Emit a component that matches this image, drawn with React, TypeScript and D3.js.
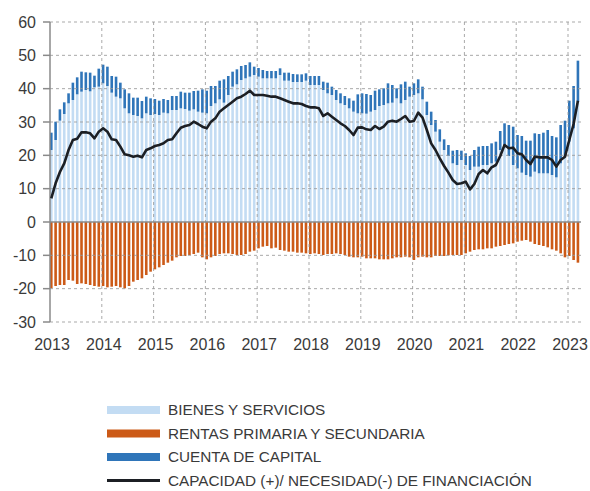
import React from "react";
import * as d3 from "d3";

const years = [2013, 2014, 2015, 2016, 2017, 2018, 2019, 2020, 2021, 2022, 2023];
const yTicks = [-30, -20, -10, 0, 10, 20, 30, 40, 50, 60];

// Monthly, Jan 2013 .. Mar 2023
const bienes = [
  21.6, 24.6, 30.4, 32.4, 35.6, 36.6, 38.3, 39.1, 39.6, 39.2, 40.4, 40.6,
  41.6, 40.8, 38.8, 37.6, 37.1, 34.1, 32.6, 32.1, 31.8, 31.1, 32.6, 32.1,
  32.4, 32.1, 32.8, 32.6, 33.6, 33.6, 34.1, 33.9, 33.4, 33.8, 33.1, 32.8,
  32.6, 34.8, 35.6, 36.8, 35.8, 38.1, 40.6, 41.3, 42.6, 43.1, 43.6, 44.1,
  43.6, 43.1, 43.1, 43.1, 43.1, 44.1, 42.4, 42.4, 42.0, 42.0, 42.0, 42.4,
  41.1, 41.1, 41.1, 39.6, 38.6, 38.1, 36.6, 35.6, 35.1, 34.1, 33.1, 32.6,
  32.6, 32.5, 33.1, 33.6, 34.8, 35.1, 35.6, 35.8, 37.1, 35.6, 36.6, 37.6,
  38.1, 38.6, 36.8, 32.1, 29.1, 27.1, 24.1, 21.6, 19.8, 17.6, 17.1, 18.6,
  17.1, 15.6, 16.6, 16.6, 17.1, 17.1, 17.6, 18.1, 21.6, 22.6, 19.8, 17.1,
  16.1, 14.8, 14.1, 13.6, 15.1, 14.6, 14.6, 14.6, 14.1, 13.4, 17.6, 19.6,
  24.1, 28.1, 36.1,
];

const capital = [
  5.2, 5.5, 3.4, 3.5, 3.0, 5.2, 5.1, 6.0, 5.3, 5.6, 3.5, 5.4,
  5.6, 5.8, 5.0, 6.0, 4.7, 5.7, 6.0, 5.2, 5.5, 5.2, 5.0, 5.0,
  4.5, 4.3, 4.1, 4.0, 4.2, 4.2, 5.0, 4.9, 5.4, 5.5, 6.3, 7.0,
  6.8, 6.0, 5.2, 5.6, 7.0, 5.7, 4.5, 4.5, 4.2, 4.0, 4.3, 2.5,
  2.6, 2.5, 2.2, 2.2, 2.2, 2.0, 2.4, 2.4, 2.4, 2.3, 2.3, 2.2,
  2.7, 2.7, 2.7, 2.5, 3.2, 2.5, 3.0, 3.0, 2.7, 3.0, 3.3, 5.7,
  6.0, 5.9, 5.0, 5.8, 5.0, 5.0, 6.0, 5.3, 3.0, 5.7, 5.5, 3.0,
  3.5, 4.2, 3.8, 4.0, 4.0, 3.5, 3.7, 3.2, 3.3, 3.8, 4.5, 2.8,
  3.5, 4.2, 5.0, 6.0, 5.7, 5.7, 6.0, 6.0, 5.7, 7.0, 9.3, 11.5,
  10.0, 11.0, 10.3, 10.8, 11.5, 11.8, 12.2, 13.0, 11.7, 12.0, 11.5, 10.8,
  12.3, 12.7, 12.3,
];

const rentas = [
  -19.9, -19.2, -18.9, -18.9, -17.4, -17.6, -18.6, -18.4, -18.6, -18.9, -19.2, -19.4,
  -19.2, -19.6, -19.4, -19.2, -19.6, -19.9, -19.2, -17.9, -17.4, -16.9, -15.9, -14.9,
  -14.2, -13.6, -12.9, -12.2, -11.6, -10.6, -10.2, -10.2, -9.9, -9.6, -9.2, -10.6,
  -11.2, -10.6, -10.2, -9.6, -9.4, -9.4, -9.6, -9.9, -9.9, -9.6, -8.9, -8.6,
  -7.9, -7.4, -7.2, -7.9, -7.7, -8.4, -8.6, -8.9, -8.9, -9.2, -9.2, -9.4,
  -9.6, -9.4, -9.6, -9.9, -9.6, -9.6, -9.4, -9.6, -9.9, -10.4, -10.6, -10.6,
  -10.4, -10.9, -10.9, -10.9, -11.2, -11.2, -11.2, -10.9, -10.6, -10.6, -10.4, -10.6,
  -11.4, -10.6, -10.4, -10.6, -10.6, -10.2, -10.2, -10.2, -10.0, -9.9, -9.9, -9.9,
  -9.4, -8.9, -8.4, -8.2, -8.2, -7.9, -7.9, -7.4, -7.2, -6.9, -6.6, -6.4,
  -5.9, -5.6, -5.4, -5.9, -6.6, -6.9, -7.2, -7.6, -8.2, -8.6, -9.4, -10.6,
  -10.2, -11.4, -12.2,
];

const capacidad = [
  7.1, 11.6, 15.0, 17.6, 21.6, 24.6, 25.0, 26.9, 26.9, 26.6, 25.1, 27.1,
  28.1, 27.1, 24.8, 24.6, 22.6, 20.3, 20.0, 19.6, 19.9, 19.4, 21.6, 22.1,
  22.8, 23.1, 23.6, 24.6, 24.8, 26.6, 28.3, 28.8, 29.1, 30.1, 29.4, 28.6,
  28.1, 30.1, 31.1, 33.1, 34.1, 35.1, 36.1, 37.1, 37.6, 38.4, 39.4, 38.1,
  38.1, 38.1, 37.9, 37.6, 37.6, 37.1, 36.6, 36.1, 35.6, 35.6, 35.4, 34.8,
  34.4, 34.4, 34.1, 31.8, 32.6, 31.6, 30.6, 29.6, 28.8, 27.6, 26.1, 28.3,
  28.4, 27.8, 27.6, 28.8, 27.9, 28.6, 30.1, 30.4, 30.1, 30.9, 31.8, 30.1,
  30.3, 32.8, 31.3, 27.6, 23.6, 21.6, 19.1, 16.8, 14.8, 12.6, 11.4, 11.6,
  12.1, 9.8, 11.4, 14.4, 15.6, 14.6, 16.4, 17.1, 19.8, 23.1, 22.1, 22.3,
  20.6, 20.3, 18.6, 17.4, 19.6, 19.4, 19.4, 19.4, 18.6, 16.6, 18.6, 19.6,
  24.6, 29.4, 36.4,
];

const legendItems = [
  { label: "BIENES Y SERVICIOS", kind: "light" },
  { label: "RENTAS PRIMARIA Y SECUNDARIA", kind: "orange" },
  { label: "CUENTA DE CAPITAL", kind: "dark" },
  { label: "CAPACIDAD (+)/ NECESIDAD(-) DE FINANCIACIÓN", kind: "line" },
];

const COLORS: Record<string, string> = {
  light: "#c3dcf3",
  dark: "#2f75b9",
  orange: "#cc5a17",
  line: "#1c1f24",
};

export default function App() {
  const W = 590;
  const H = 491;
  const left = 50;
  const right = 581;
  const top = 22;
  const bottom = 322;

  const x = d3.scaleLinear().domain([2013, 2023]).range([left, 568]);
  const y = d3.scaleLinear().domain([-30, 60]).range([bottom, top]);
  const t = (i: number) => 2013 + (i + 0.3) / 12;
  const bw = 2.6;

  const linePath = d3
    .line<number>()
    .x((_, i) => x(t(i)))
    .y((d) => y(d))(capacidad) as string;

  const font = "'Liberation Sans', Arial, sans-serif";
  const txt = "#3a3a3a";

  return (
    <svg
      width={W}
      height={H}
      style={{ position: "absolute", left: 0, top: 0, background: "#fff" }}
      fontFamily={font}
    >
      {/* bars */}
      {bienes.map((b, i) => {
        const cx = x(t(i));
        const c = capital[i];
        const r = rentas[i];
        return (
          <g key={"b" + i}>
            <rect x={cx - bw / 2} y={y(b)} width={bw} height={y(0) - y(b)} fill={COLORS.light} />
            <rect x={cx - bw / 2} y={y(b + c)} width={bw} height={y(b) - y(b + c)} fill={COLORS.dark} />
            <rect x={cx - bw / 2} y={y(0)} width={bw} height={y(r) - y(0)} fill={COLORS.orange} />
          </g>
        );
      })}

      {/* horizontal grid */}
      {yTicks
        .filter((v) => v !== 0)
        .map((v) => (
          <line
            key={"h" + v}
            x1={left}
            x2={right}
            y1={y(v)}
            y2={y(v)}
            stroke="#9a9a9a"
            strokeOpacity={0.85}
            strokeWidth={1}
            strokeDasharray="3,3"
          />
        ))}
      {/* vertical grid */}
      {years.slice(1).map((yr) => (
        <line
          key={"v" + yr}
          x1={x(yr)}
          x2={x(yr)}
          y1={top}
          y2={bottom}
          stroke="#9a9a9a"
          strokeOpacity={0.85}
          strokeWidth={1}
          strokeDasharray="3,3"
        />
      ))}

      {/* zero line */}
      <line x1={left} x2={right} y1={y(0)} y2={y(0)} stroke="#8a8a8a" strokeWidth={1.5} />
      {/* y axis */}
      <line x1={left} x2={left} y1={top} y2={bottom} stroke="#8a8a8a" strokeWidth={1.5} />
      {yTicks.map((v) => (
        <g key={"yt" + v}>
          <line x1={left - 7} x2={left} y1={y(v)} y2={y(v)} stroke="#8a8a8a" strokeWidth={1.5} />
          <text x={36} y={y(v)} dy="0.36em" textAnchor="end" fontSize={16} fill={txt}>
            {v}
          </text>
        </g>
      ))}
      {years.map((yr) => (
        <text key={"xt" + yr} x={x(yr) + 2} y={350} textAnchor="middle" fontSize={16} fill={txt}>
          {yr}
        </text>
      ))}

      {/* line */}
      <path d={linePath} fill="none" stroke={COLORS.line} strokeWidth={2.6} strokeLinejoin="round" />

      {/* legend */}
      {legendItems.map((it, i) => {
        const cy = 410 + i * 23.5;
        return (
          <g key={"lg" + i}>
            {it.kind === "line" ? (
              <rect x={107} y={cy - 1.5} width={53} height={3} fill={COLORS.line} />
            ) : (
              <rect x={107} y={cy - 4} width={53} height={8} fill={COLORS[it.kind]} />
            )}
            <text x={168} y={cy + 5.2} fontSize={15.3} fill={txt}>
              {it.label}
            </text>
          </g>
        );
      })}
    </svg>
  );
}
